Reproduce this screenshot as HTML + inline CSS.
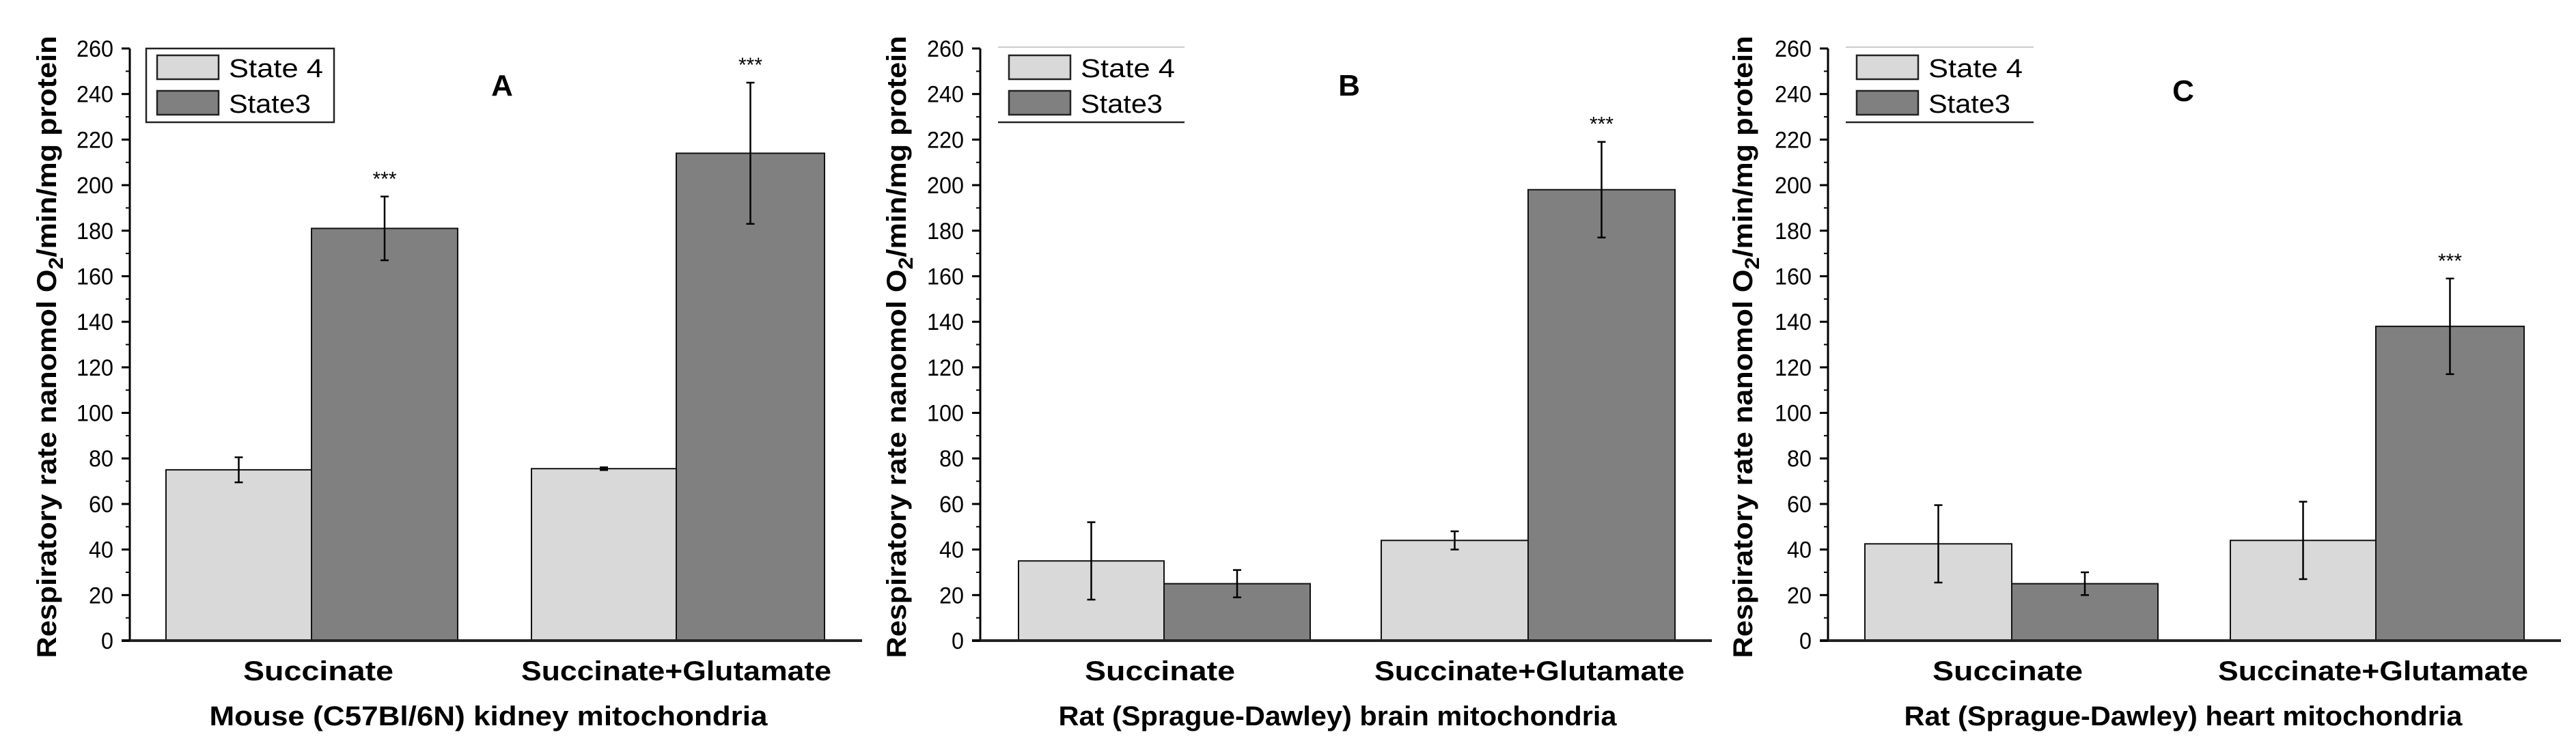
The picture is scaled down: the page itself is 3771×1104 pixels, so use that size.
<!DOCTYPE html>
<html><head><meta charset="utf-8"><style>
html,body{margin:0;padding:0;background:#fff;}
svg{display:block;font-family:"Liberation Sans",Arial,sans-serif;}
</style></head><body>
<svg id="chart" width="3771" height="1104" viewBox="0 0 3771 1104" xmlns="http://www.w3.org/2000/svg"></svg>
<script>
const categories = ["Succinate", "Succinate+Glutamate"];
const panelLetters = ["A", "B", "C"];
const panelTitles = ["Mouse (C57Bl/6N) kidney mitochondria", "Rat (Sprague-Dawley) brain mitochondria", "Rat (Sprague-Dawley) heart mitochondria"];
const state4A = [75, 75.5];
const state4ErrA = [5.5, 0.6];
const state3A = [181, 214];
const state3ErrA = [14, 31];
const state4B = [35, 44];
const state4ErrB = [17, 4];
const state3B = [25, 198];
const state3ErrB = [6, 21];
const state4C = [42.5, 44];
const state4ErrC = [17, 17];
const state3C = [25, 138];
const state3ErrC = [5, 21];
const sigA = [true, true];
const sigB = [false, true];
const sigC = [false, true];
const yTicks = [0,20,40,60,80,100,120,140,160,180,200,220,240,260];

const NS = "http://www.w3.org/2000/svg";
const svg = document.getElementById("chart");
function mk(tag, attrs, parent){const e=document.createElementNS(NS,tag);for(const k in attrs)e.setAttribute(k,attrs[k]);(parent||svg).appendChild(e);return e;}

const panels = [
 {s4:state4A,e4:state4ErrA,s3:state3A,e3:state3ErrA,sig:sigA,ax:190,axEnd:1262,groups:[[243,456,670],[778,990,1207]],titleX:68,catX:[466,990],titleCX:715,letterX:735,letterY:140,legend:{x1:214,x2:489,sw:230,box:true}},
 {s4:state4B,e4:state4ErrB,s3:state3B,e3:state3ErrB,sig:sigB,ax:1435,axEnd:2506,groups:[[1491,1704,1918],[2022,2237,2452]],titleX:1312,catX:[1698,2239],titleCX:1958,letterX:1975,letterY:140,legend:{x1:1461,x2:1734,sw:1477,box:false}},
 {s4:state4C,e4:state4ErrC,s3:state3C,e3:state3ErrC,sig:sigC,ax:2676,axEnd:3749,groups:[[2730,2945,3159],[3265,3478,3695]],titleX:2551,catX:[2939,3474],titleCX:3196,letterX:3196,letterY:148,legend:{x1:2702,x2:2977,sw:2718,box:false}}
];
const yTop=71, yBot=938, yMax=260;
function y(v){return yBot-(v/yMax)*(yBot-yTop);}

panels.forEach((p,pi)=>{
  const g=mk("g",{});
  
  
  // bars
  for(let i=0;i<2;i++){
    const [a,b,c]=p.groups[i];
    const r1=mk("rect",{x:a,y:y(p.s4[i]),width:b-a,height:yBot-y(p.s4[i]),fill:"#d9d9d9",stroke:"#111","stroke-width":2},g);
    
    
    const r2=mk("rect",{x:b,y:y(p.s3[i]),width:c-b,height:yBot-y(p.s3[i]),fill:"#808080",stroke:"#111","stroke-width":2},g);
    
    
    [[ (a+b)/2,p.s4[i],p.e4[i] ],[ (b+c)/2,p.s3[i],p.e3[i] ]].forEach(([cx,v,e],k)=>{
      const eg=mk("g",{stroke:"#000","stroke-width":2.5},g);
      
      
      mk("line",{x1:cx,x2:cx,y1:y(v+e),y2:y(v-e)},eg);
      mk("line",{x1:cx-6,x2:cx+6,y1:y(v+e),y2:y(v+e)},eg);
      mk("line",{x1:cx-6,x2:cx+6,y1:y(v-e),y2:y(v-e)},eg);
      if(k===1&&p.sig[i]){
        const t=mk("text",{x:cx,y:y(v+e)-16,"text-anchor":"middle","font-size":30},g);
        t.textContent="***";
        
        
      }
    });
  }
  // axes
  const ya=mk("line",{x1:p.ax,x2:p.ax,y1:yTop,y2:yBot,stroke:"#000","stroke-width":3},g);
  
  
  const xa=mk("line",{x1:p.ax-12,x2:p.axEnd,y1:yBot,y2:yBot,stroke:"#222","stroke-width":4},g);
  
  
  yTicks.forEach((v,ti)=>{
    mk("line",{x1:p.ax-12,x2:p.ax,y1:y(v),y2:y(v),stroke:"#000","stroke-width":3},g);
    if(ti<yTicks.length-1) mk("line",{x1:p.ax-6,x2:p.ax,y1:y(v+10),y2:y(v+10),stroke:"#000","stroke-width":2},g);
    const t=mk("text",{x:p.ax-24,y:y(v)+12,"text-anchor":"end","font-size":34,textLength:String(v).length*18,lengthAdjust:"spacingAndGlyphs"},g);
    t.textContent=v;
    
    
  });
  // y title
  const yt=mk("text",{x:0,y:0,transform:`translate(${p.titleX+14},508) rotate(-90)`,"text-anchor":"middle","font-size":40,"font-weight":"bold",textLength:911,lengthAdjust:"spacingAndGlyphs"},g);
  yt.innerHTML='Respiratory rate nanomol O<tspan font-size="30" dy="10">2</tspan><tspan dy="-10">/min/mg protein</tspan>';
  
  
  // categories
  categories.forEach((c,i)=>{
    const t=mk("text",{x:p.catX[i],y:996,"text-anchor":"middle","font-size":40,"font-weight":"bold",textLength:i?454:220,lengthAdjust:"spacingAndGlyphs"},g);
    t.textContent=c;
    
    
  });
  const xt=mk("text",{x:p.titleCX,y:1062,"text-anchor":"middle","font-size":40,"font-weight":"bold",textLength:817,lengthAdjust:"spacingAndGlyphs"},g);
  xt.textContent=panelTitles[pi];
  
  
  const lt=mk("text",{x:p.letterX,y:p.letterY,"text-anchor":"middle","font-size":44,"font-weight":"bold"},g);
  lt.textContent=panelLetters[pi];
  
  
  // legend
  const L=p.legend;
  const lg=mk("g",{},g);
  
  
  if(L.box){ mk("rect",{x:L.x1,y:71,width:L.x2-L.x1,height:108,fill:"#fff",stroke:"#222","stroke-width":2.5},lg); }
  else { mk("line",{x1:L.x1,x2:L.x2,y1:69,y2:69,stroke:"#ccc","stroke-width":2},lg); mk("line",{x1:L.x1,x2:L.x2,y1:179,y2:179,stroke:"#222","stroke-width":2.5},lg); }
  [["State 4","#d9d9d9",81],["State3","#808080",133]].forEach(([lab,col,yy])=>{
    const e=mk("g",{},lg);
    
    
    mk("rect",{x:L.sw,y:yy,width:90,height:35,fill:col,stroke:"#222","stroke-width":2.5},e);
    const t=mk("text",{x:L.sw+105,y:yy+32,"font-size":38,textLength:lab==="State 4"?138:120,lengthAdjust:"spacingAndGlyphs"},e);
    t.textContent=lab;
  });
});
</script>
</body></html>
